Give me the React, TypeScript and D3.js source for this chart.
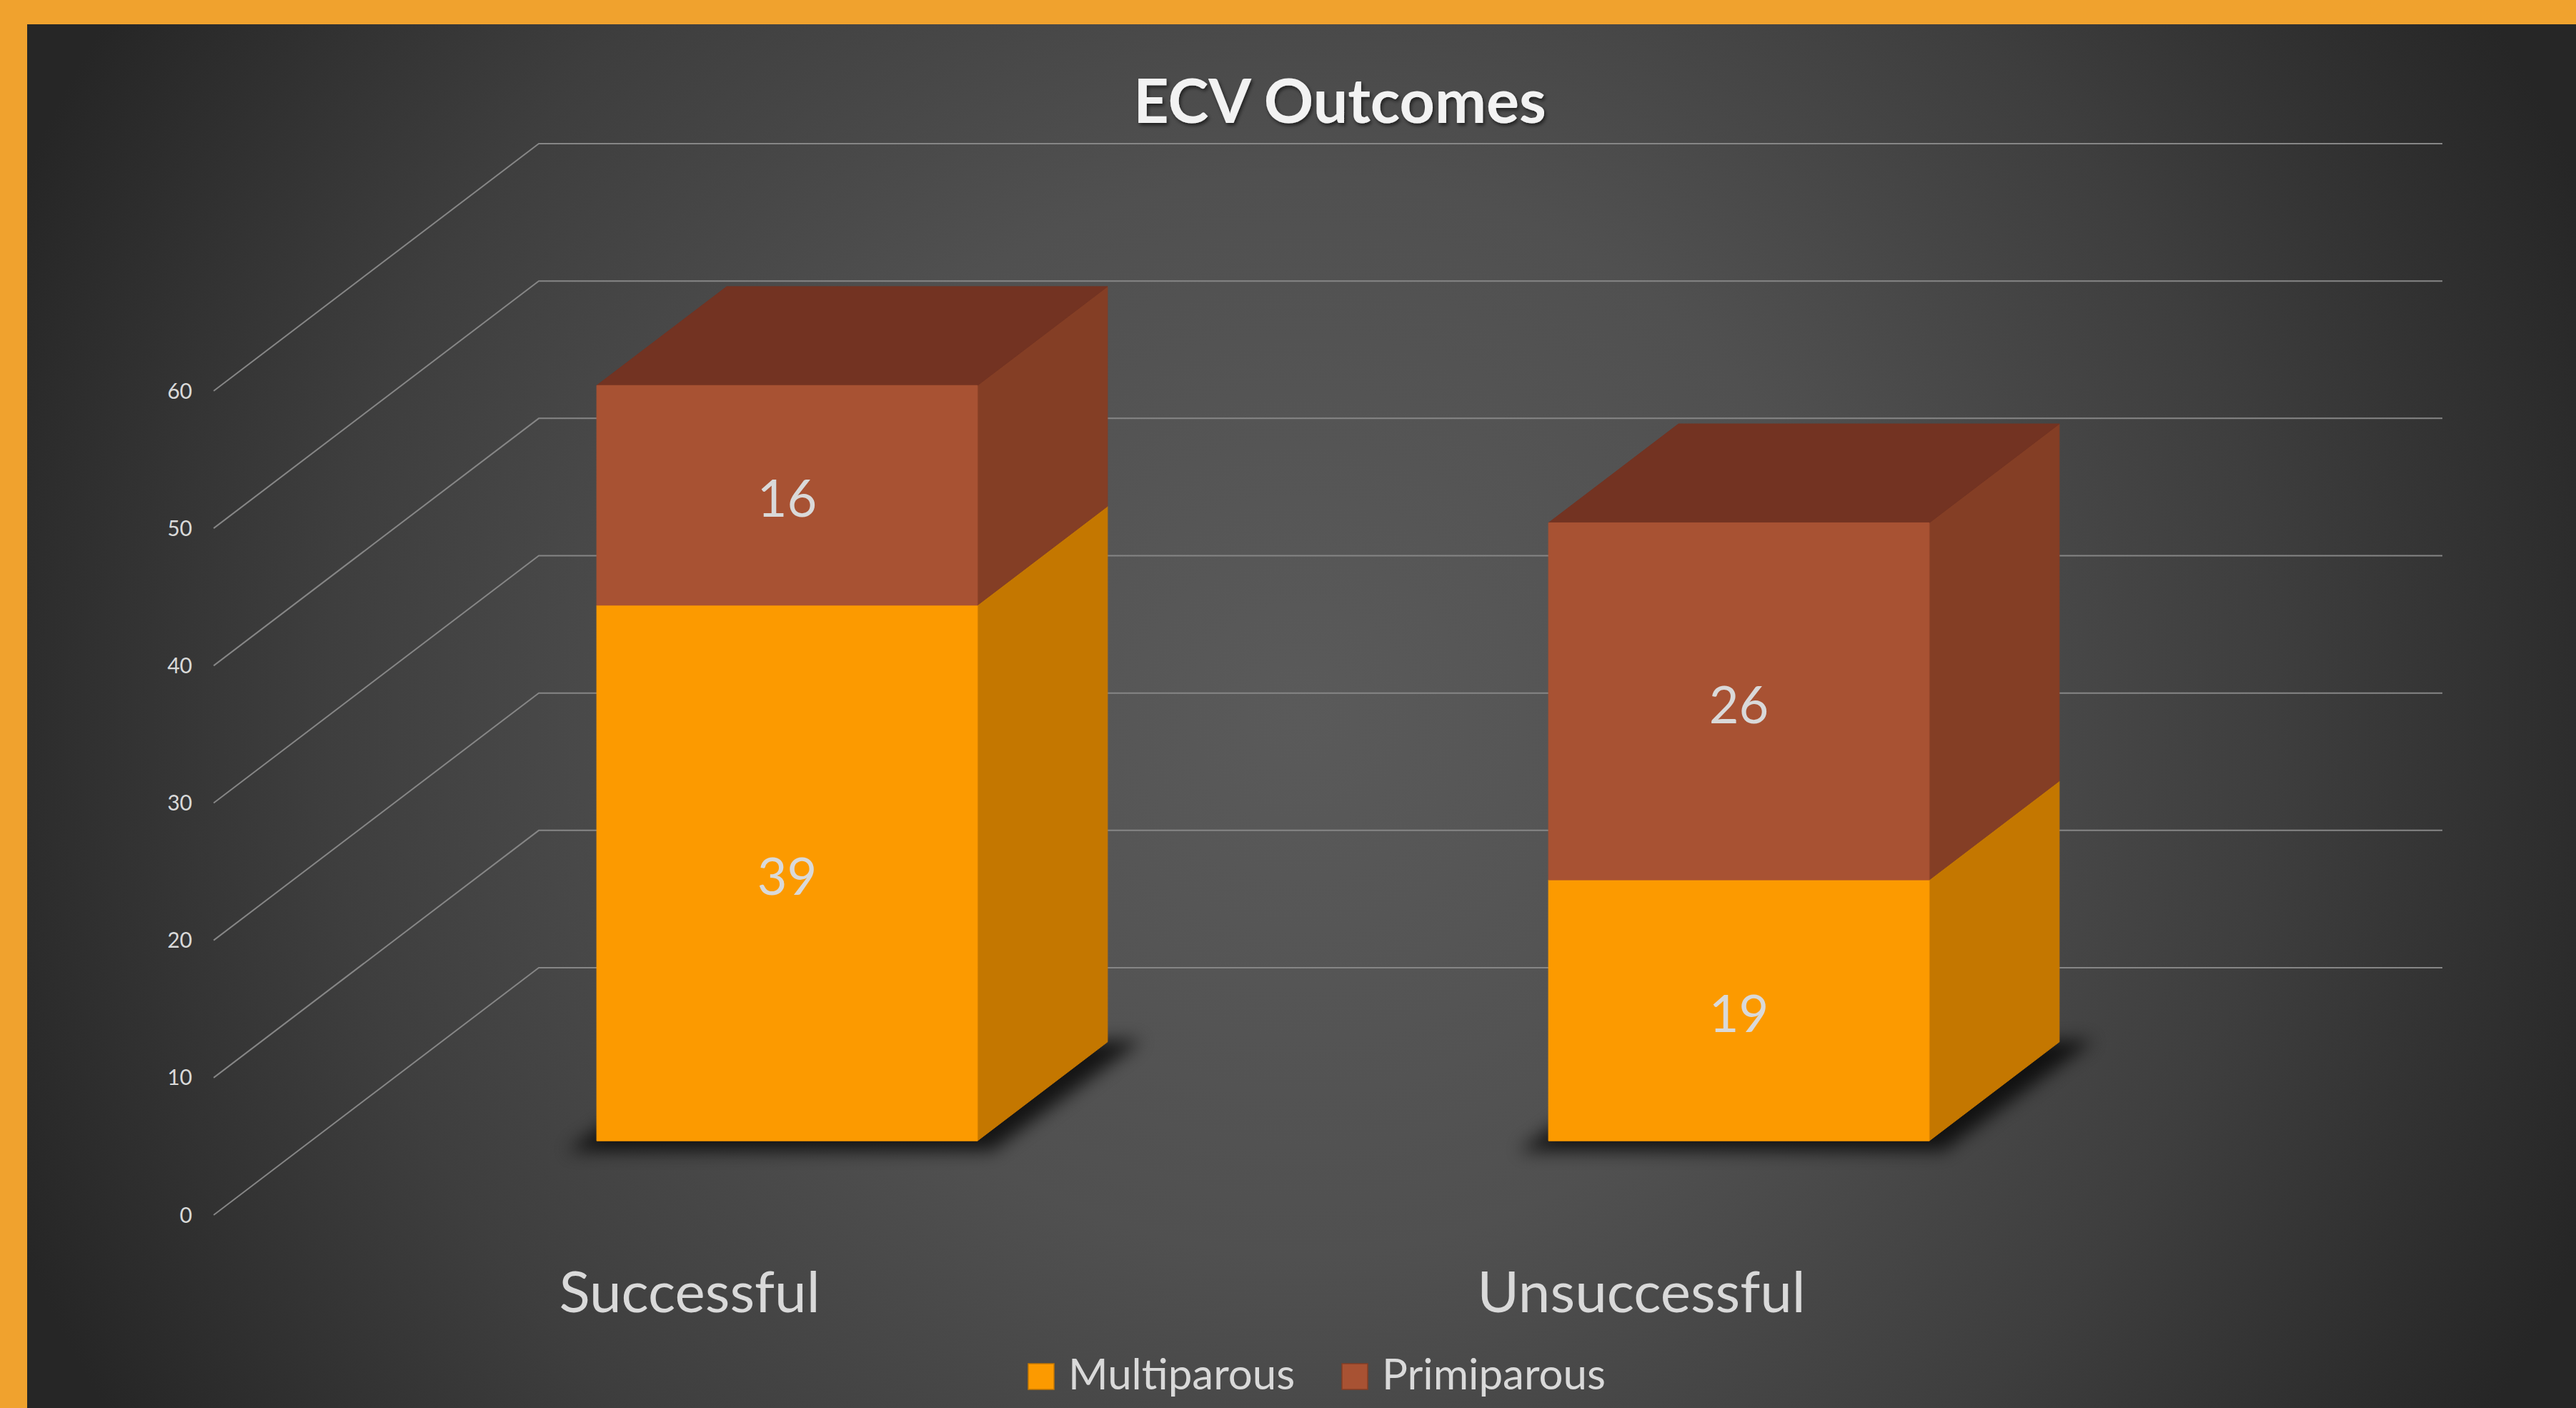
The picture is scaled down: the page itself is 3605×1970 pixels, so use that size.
import React from "react";
import * as d3 from "d3";

const categories = ["Successful", "Unsuccessful"];
const seriesNames = ["Multiparous", "Primiparous"];
const multiparous = [39, 19];
const primiparous = [16, 26];
const yTicks = [0, 10, 20, 30, 40, 50, 60];
const chartTitle = "ECV Outcomes";

const W = 3605;
const H = 1970;
const DX = 455; // full depth offset in x
const DY = 346; // full depth offset in y
const Z0 = 0.3;
const Z1 = 0.7;
const BAR_FRAC = 0.4;

const frontColors = ["#FC9A00", "#A85233"];
const sideColors = ["#C47700", "#843E25"];
const topColors = ["#A86700", "#733322"];

export default function App() {
  const x = d3.scaleBand<string>().domain(categories).range([299, 2963]);
  const y = d3.scaleLinear().domain([0, 60]).range([1700, 547]);
  const P = (px: number, v: number, z: number): [number, number] => [px + z * DX, y(v) - z * DY];
  const poly = (pts: [number, number][]) => pts.map((p) => p.join(",")).join(" ");

  const rows = categories.map((c, i) => ({ cat: c, Multiparous: multiparous[i], Primiparous: primiparous[i] }));
  const stack = d3.stack<any>().keys(seriesNames)(rows);

  const bw = x.bandwidth();
  const font = "Lato, 'Open Sans', sans-serif";

  return (
    <svg width={W} height={H} style={{ position: "absolute", left: 0, top: 0, display: "block" }}>
      <defs>
        <radialGradient id="bg" gradientUnits="userSpaceOnUse" cx={1820} cy={1000} r={1950}
          gradientTransform="translate(1820,1000) scale(1,0.97) translate(-1820,-1000)">
          <stop offset="0" stopColor="#5a5a5a" />
          <stop offset="0.4" stopColor="#505050" />
          <stop offset="0.7" stopColor="#3e3e3e" />
          <stop offset="1" stopColor="#262626" />
        </radialGradient>
        <filter id="shadowBlur" x="-30%" y="-30%" width="160%" height="160%">
          <feGaussianBlur stdDeviation="12" />
        </filter>
        <filter id="titleShadow" x="-10%" y="-30%" width="120%" height="160%">
          <feDropShadow dx="2" dy="3" stdDeviation="2.5" floodColor="#000" floodOpacity="0.6" />
        </filter>
      </defs>

      <rect x={0} y={0} width={W} height={H} fill="#F0A22E" />
      <rect x={38} y={34} width={W - 38} height={H - 34} fill="url(#bg)" />

      {/* gridlines: left wall + back wall */}
      <g stroke="#868686" strokeWidth={2} fill="none">
        {yTicks.map((t) => {
          const a = P(x.range()[0], t, 0);
          const b = P(x.range()[0], t, 1);
          const c = P(x.range()[1], t, 1);
          return <polyline key={t} points={poly([a, b, c])} />;
        })}
      </g>

      {/* tick labels */}
      <g fill="#D9D9D9" fontFamily={font} fontSize={30} textAnchor="end">
        {yTicks.map((t) => (
          <text key={t} x={x.range()[0] - 30} y={y(t)} dy="0.35em">
            {t}
          </text>
        ))}
      </g>

      {/* shadows */}
      <g filter="url(#shadowBlur)" fill="#000" opacity={0.75}>
        {categories.map((c) => {
          const bx0 = (x(c) as number) + (bw * (1 - BAR_FRAC)) / 2;
          const bx1 = bx0 + bw * BAR_FRAC;
          const fl = P(bx0, 0, Z0);
          const fr = P(bx1, 0, Z0);
          const br = P(bx1, 0, Z1);
          const bl = P(bx0, 0, Z1);
          return (
            <polygon
              key={c}
              points={poly([
                [fl[0] - 42, fl[1] + 14],
                [fr[0] + 20, fr[1] + 14],
                [br[0] + 48, br[1] - 2],
                [bl[0], bl[1] - 2],
              ])}
            />
          );
        })}
      </g>

      {/* bars */}
      {categories.map((c, ci) => {
        const bx0 = (x(c) as number) + (bw * (1 - BAR_FRAC)) / 2;
        const bx1 = bx0 + bw * BAR_FRAC;
        return (
          <g key={c}>
            {stack.map((layer, li) => {
              const [v0, v1] = layer[ci];
              const isTop = li === stack.length - 1;
              const front = [P(bx0, v0, Z0), P(bx1, v0, Z0), P(bx1, v1, Z0), P(bx0, v1, Z0)] as [number, number][];
              const side = [P(bx1, v0, Z0), P(bx1, v0, Z1), P(bx1, v1, Z1), P(bx1, v1, Z0)] as [number, number][];
              const top = [P(bx0, v1, Z0), P(bx1, v1, Z0), P(bx1, v1, Z1), P(bx0, v1, Z1)] as [number, number][];
              return (
                <g key={li}>
                  <polygon points={poly(side)} fill={sideColors[li]} stroke={sideColors[li]} strokeWidth={1} />
                  {isTop && <polygon points={poly(top)} fill={topColors[li]} stroke={topColors[li]} strokeWidth={1} />}
                  <polygon points={poly(front)} fill={frontColors[li]} stroke={frontColors[li]} strokeWidth={1} />
                </g>
              );
            })}
            {stack.map((layer, li) => {
              const [v0, v1] = layer[ci];
              const cxy = P((bx0 + bx1) / 2, (v0 + v1) / 2, Z0);
              return (
                <text
                  key={"l" + li}
                  x={cxy[0]}
                  y={cxy[1]}
                  dy="0.42em"
                  fill="#D9D9D9"
                  fontFamily={font}
                  fontSize={72}
                  textAnchor="middle"
                >
                  {v1 - v0}
                </text>
              );
            })}
          </g>
        );
      })}

      {/* category labels */}
      <g fill="#D9D9D9" fontFamily={font} fontSize={80} textAnchor="middle">
        {categories.map((c) => (
          <text key={c} x={(x(c) as number) + bw / 2} y={1836}>
            {c}
          </text>
        ))}
      </g>

      {/* title */}
      <text
        x={1875}
        y={172}
        fill="#F2F2F2"
        fontFamily={font}
        fontWeight={700}
        fontSize={86}
        textAnchor="middle"
        filter="url(#titleShadow)"
      >
        {chartTitle}
      </text>

      {/* legend */}
      <g fontFamily={font} fontSize={60} fill="#D9D9D9">
        {seriesNames.map((s, i) => {
          const lx = [1439, 1878][i];
          return (
            <g key={s}>
              <rect x={lx} y={1908} width={36} height={36} fill={frontColors[i]} stroke={sideColors[i]} strokeWidth={1.5} />
              <text x={lx + 56} y={1944}>
                {s}
              </text>
            </g>
          );
        })}
      </g>
    </svg>
  );
}
